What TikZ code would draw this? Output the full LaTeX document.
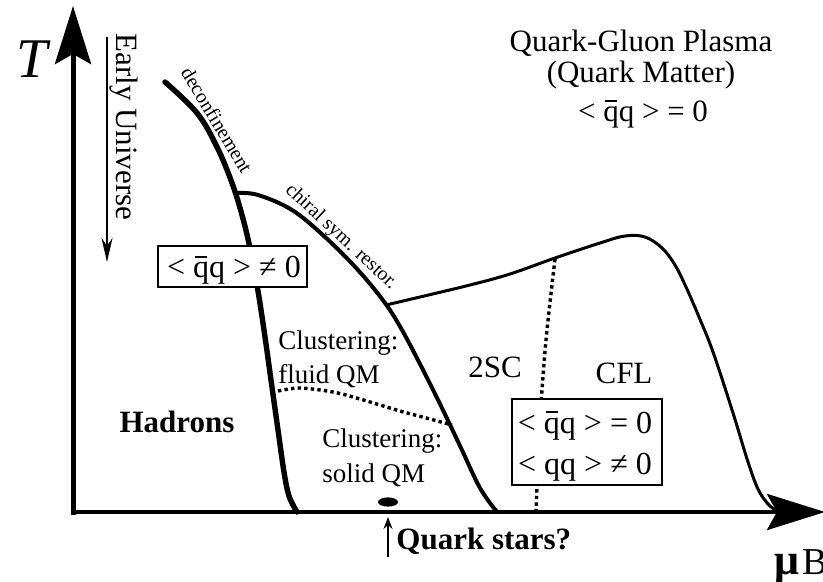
\documentclass[tikz,border=0pt]{standalone}
\usepackage{fontspec}
\setmainfont{Liberation Serif}
\usetikzlibrary{arrows.meta}
\newcommand\qbr{\leavevmode\hbox{\rlap{\hspace{0.07em}\rule[0.64em]{0.36em}{0.055em}}q}}
\tikzset{
  axisarrow/.style={-{Stealth[length=29pt,width=18pt,inset=5pt]}},
  txt/.style={inner sep=0pt, font=\fontsize{15.5}{18}\selectfont},
  boxtxt/.style={inner sep=0pt, font=\fontsize{16}{19}\selectfont},
  clus/.style={inner sep=0pt, font=\fontsize{13.5}{16}\selectfont},
  small/.style={inner sep=0pt, font=\fontsize{10}{12}\selectfont},
  bold/.style={inner sep=0pt, font=\fontsize{15.5}{18}\selectfont\bfseries},
  dotline/.style={line width=1.7pt, dash pattern=on 1.7pt off 1.6pt},
  valbox/.style={draw, line width=0.8pt, fill=white},
}
\begin{document}
\begin{tikzpicture}[x=0.5pt,y=-0.5pt]
\fill[white] (0,0) rectangle (823,582);
\useasboundingbox (0,0) rectangle (823,582);

% axes
\coordinate (O) at (73,512);
\coordinate (Ytip) at (73,6);
\coordinate (Xtip) at (825,512);
\draw[line width=2.5pt, axisarrow] (73,514.5) -- (Ytip);
\draw[line width=2.2pt, axisarrow] (71.8,512) -- (Xtip);

\node[inner sep=0pt, anchor=base, font=\fontsize{28}{30}\selectfont\itshape] (T) at (32,78) {T};
\node[inner sep=0pt, anchor=base west, font=\fontsize{22}{24}\selectfont\bfseries] (mu) at (774,574) {μ};
\node[inner sep=0pt, anchor=base west, font=\fontsize{19}{21}\selectfont] (muB) at ([xshift=1pt]mu.base east) {B};

% early universe
\node[txt, rotate=-90, anchor=base west] (EU) at (116,33) {Early Universe};
\coordinate (EUa) at (107,37);
\coordinate (EUb) at (107,262);
\draw[line width=0.8pt, -{Stealth[length=12pt,width=5.5pt]}] (EUa) -- (EUb);

% deconfinement line
\draw[line width=2.7pt, line cap=round] plot[smooth, tension=0.6] coordinates
  {(165,82) (197,113) (217,147) (232,183) (242,215) (250,248) (257,285) (264,330) (271,380) (278,430) (284,472) (289,496) (297,512)};
% chiral line
\draw[line width=2pt] plot[smooth, tension=0.6] coordinates
  {(237,193) (258,195) (292,210) (325,237) (358,270) (385,303) (402,330) (421,366) (441,406) (461,448) (480,488) (497,512)};
% upper (colour superconductivity) line
\draw[line width=1.5pt] plot[smooth, tension=0.6] coordinates
  {(386,305) (420,297) (470,285) (510,274) (555,258) (600,243) (625,236) (645,237) (662,248) (675,265) (686,287) (699,317) (713,352) (733,413) (748,462) (758,489) (768,504) (777,511)};

% dotted lines
\draw[dotline] plot[smooth] coordinates {(555,259) (546,340) (540,420) (536,511)};
\draw[dotline] plot[smooth] coordinates {(278,391) (300,388) (333,392) (360,399) (400,411) (430,419) (452,425)};

% boxes
\node[valbox, minimum width=74.5pt, minimum height=20.5pt, inner sep=0pt] (box1) at (232.5,266.5) {};
\node[boxtxt, anchor=base] (b1t) at (234,278) {< \qbr q > ≠ 0};
\node[valbox, minimum width=75pt, minimum height=43pt, inner sep=0pt] (box2) at (587,442) {};
\node[boxtxt, anchor=base] (b2t1) at (585,433) {< \qbr q > = 0};
\node[boxtxt, anchor=base] (b2t2) at (585,474) {< qq > ≠ 0};

% QGP label
\node[txt, anchor=base] (qgp1) at (641,52) {Quark-Gluon Plasma};
\node[txt, anchor=base] (qgp2) at (641,83) {(Quark Matter)};
\node[txt, anchor=base] (qgp3) at (643,122) {< \qbr q > = 0};

% line labels
\node[small, rotate=-59] (dec) at (217,120) {deconfinement};
\node[small, rotate=-43] (chi) at (341,237) {chiral sym. restor.};

% region labels
\node[bold, anchor=base] (had) at (177,432) {Hadrons};
\node[clus, anchor=base west] (c1) at (278,349) {Clustering:};
\node[clus, anchor=base west] (c2) at (278,383) {fluid QM};
\node[clus, anchor=base west] (c3) at (322,447) {Clustering:};
\node[clus, anchor=base west] (c4) at (322,482) {solid QM};
\node[txt, anchor=base] (sc) at (495,377) {2SC};
\node[txt, anchor=base] (cfl) at (624,383) {CFL};

% quark stars
\fill (388,502) ellipse [x radius=5pt, y radius=2.3pt];
\coordinate (qsa) at (388,557);
\coordinate (qsb) at (388,517);
\draw[line width=0.8pt, -{Stealth[length=6pt,width=4.5pt]}] (qsa) -- (qsb);
\node[bold, anchor=base west] (qs) at (396,549) {Quark stars?};
\end{tikzpicture}
\end{document}
